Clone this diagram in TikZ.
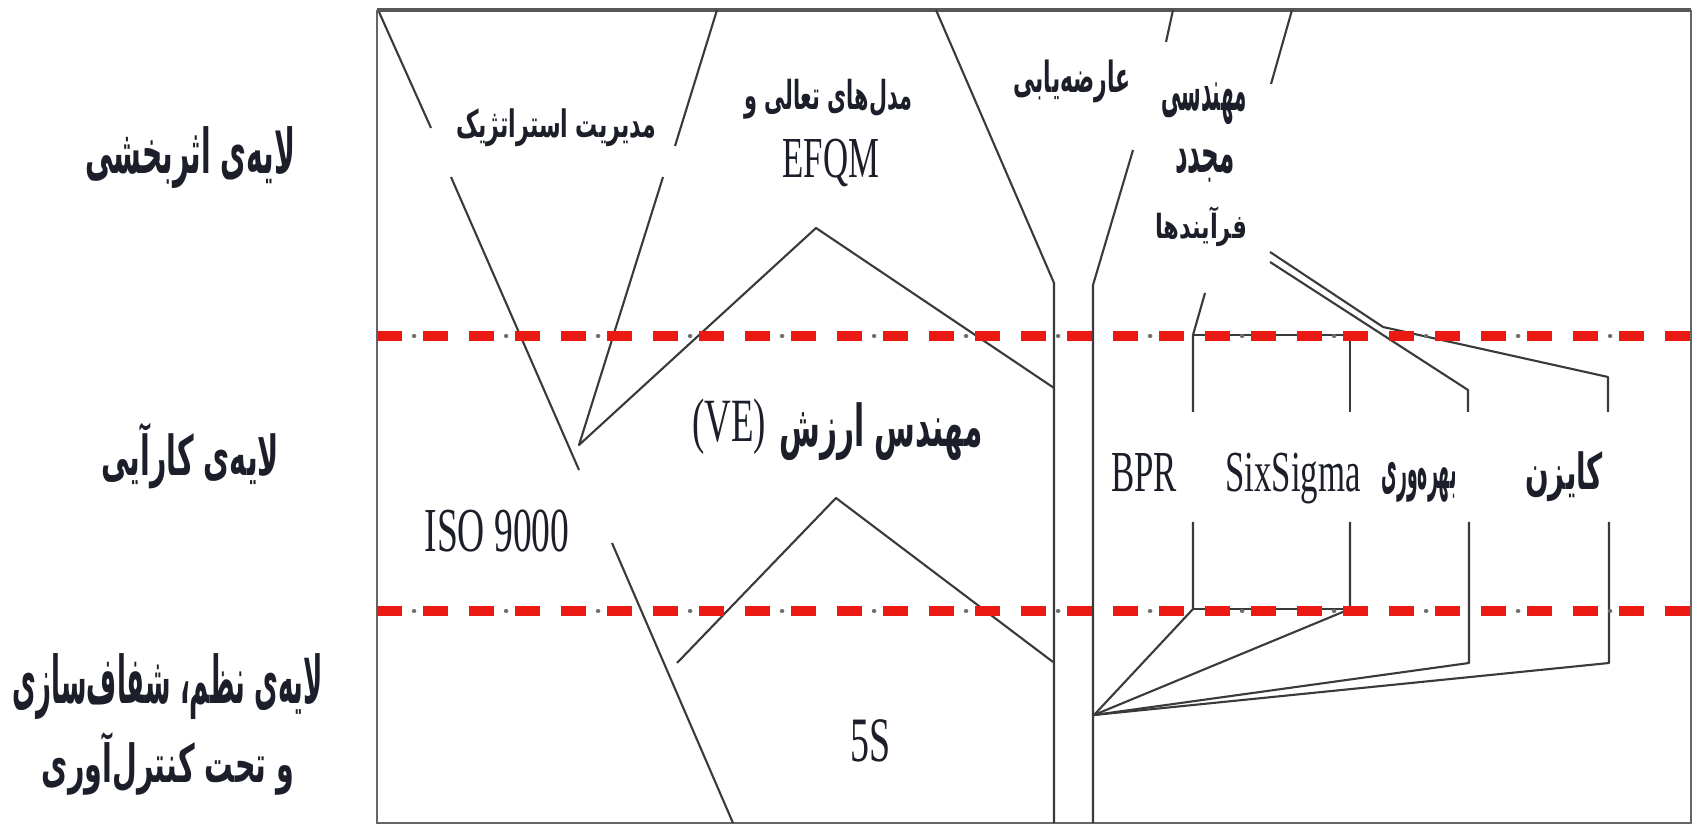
\documentclass[tikz,border=0pt]{standalone}
\usepackage{fontspec}
\usepackage{graphicx}
\TeXXeTstate=1
\newfontfamily\fa[Script=Arabic]{DejaVu Sans}
\newfontfamily\lat[FakeStretch=0.6]{Liberation Serif}
\definecolor{ink}{HTML}{1C1F2A}
\definecolor{wire}{HTML}{3A3A3A}
\definecolor{framegray}{HTML}{666666}
\definecolor{layerred}{RGB}{234,26,18}
\definecolor{dotgray}{HTML}{6E6E6E}
% Persian label fitted to a box of given width and total height (in mm)
\newcommand{\fitfa}[3]{\resizebox*{#1mm}{#2mm}{\fa\bfseries #3}}
\begin{document}
\begin{tikzpicture}[x=0.1mm,y=-0.1mm,
  wire/.style={draw=wire,line width=0.6pt,line join=round},
  framebox/.style={draw=framegray,line width=0.7pt},
  topedge/.style={draw=framegray!85!black,line width=1.3pt},
  layerline/.style={draw=layerred,line width=1mm,dash pattern=on 2.5mm off 2.1mm},
  layerdots/.style={draw=dotgray,line width=0.45mm,line cap=round,dash pattern=on 0.01mm off 9.19mm},
  fa/.style={inner sep=0pt,text=ink,anchor=center},
  la/.style={inner sep=0pt,text=ink,anchor=base,font=\lat\fontsize{16.5}{18}\selectfont}]
\useasboundingbox (0,0) rectangle (1694,826);

% frame
\coordinate (TL) at (377,10);
\coordinate (TR) at (1691,10);
\coordinate (BR) at (1691,823);
\coordinate (BL) at (377,823);
\draw[framebox] (TL) -- (BL) -- (BR) -- (TR);
\draw[topedge] (TL) -- (TR);

% strategic management funnel
\coordinate (sa1) at (379,12);   \coordinate (sa2) at (431,128);
\coordinate (sb1) at (717,10);   \coordinate (sb2) at (675,146);
\coordinate (sc1) at (451,177);  \coordinate (sc2) at (579,470);
\coordinate (sd1) at (663,177);  \coordinate (apex) at (579,445);
\coordinate (efqm) at (816,228); \coordinate (efqmR) at (1054,388);
\draw[wire] (sa1) -- (sa2);
\draw[wire] (sb1) -- (sb2);
\draw[wire] (sc1) -- (sc2);
\draw[wire] (sd1) -- (apex) -- (efqm) -- (efqmR);

% benchmarking channel
\coordinate (ch1) at (936,10);  \coordinate (ch2) at (1054,283); \coordinate (ch3) at (1054,823);
\coordinate (cr1) at (1133,150); \coordinate (cr2) at (1093,285); \coordinate (cr3) at (1093,823);
\draw[wire] (ch1) -- (ch2) -- (ch3);
\draw[wire] (cr1) -- (cr2) -- (cr3);
\coordinate (re1) at (1173,10); \coordinate (re2) at (1166,42);
\coordinate (re3) at (1292,10); \coordinate (re4) at (1271,84);
\draw[wire] (re1) -- (re2);
\draw[wire] (re3) -- (re4);

% value engineering and ISO lines
\coordinate (ve1) at (677,663); \coordinate (vep) at (836,498); \coordinate (ve2) at (1053,662);
\draw[wire] (ve1) -- (vep) -- (ve2);
\coordinate (iso1) at (612,543); \coordinate (iso2) at (733,823);
\draw[wire] (iso1) -- (iso2);

% process re-engineering branches (upper)
\coordinate (bprA) at (1205,293); \coordinate (bprB) at (1193,335); \coordinate (bprC) at (1193,412);
\coordinate (ssB) at (1350,335); \coordinate (ssC) at (1350,412);
\coordinate (prA) at (1270,262); \coordinate (prB) at (1468,390); \coordinate (prC) at (1468,412);
\coordinate (kzA) at (1270,252); \coordinate (kzM) at (1383,327); \coordinate (kzB) at (1608,377); \coordinate (kzC) at (1608,412);
\draw[wire] (bprA) -- (bprB) -- (bprC);
\draw[wire] (bprB) -- (ssB) -- (ssC);
\draw[wire] (prA) -- (prB) -- (prC);
\draw[wire] (kzA) -- (kzM) -- (kzB) -- (kzC);

% lower branches converging on the channel
\coordinate (bprD) at (1193,522); \coordinate (bprE) at (1193,609);
\coordinate (ssD) at (1350,522);  \coordinate (ssE) at (1350,609);
\coordinate (prD) at (1469,522);  \coordinate (prE) at (1469,663);
\coordinate (kzD) at (1609,522);  \coordinate (kzE) at (1609,663);
\coordinate (hub) at (1094,715);
\draw[wire] (bprD) -- (bprE) -- (hub);
\draw[wire] (ssD) -- (ssE) -- (hub);
\draw[wire] (bprE) -- (ssE);
\draw[wire] (prD) -- (prE) -- (hub);
\draw[wire] (kzD) -- (kzE) -- (hub);

% layer boundaries
\coordinate (l1a) at (377,336); \coordinate (l1b) at (1694,336);
\coordinate (l2a) at (377,611); \coordinate (l2b) at (1694,611);
\coordinate (d1a) at (414,336); \coordinate (d2a) at (414,611);
\draw[layerline] (l1a) -- (l1b);
\draw[layerline] (l2a) -- (l2b);
\draw[layerdots] (d1a) -- (l1b);
\draw[layerdots] (d2a) -- (l2b);

% layer names
\node[fa] (lay1) at (190,158) {\fitfa{21.0}{6.2}{\beginR لایه‌ی اثربخشی\endR}};
\node[fa] (lay2) at (190,456) {\fitfa{17.8}{6.6}{\beginR لایه‌ی کارآیی\endR}};
\node[fa] (lay3a) at (168,687) {\fitfa{31.0}{6.6}{\beginR لایه‌ی نظم، شفاف‌سازی\endR}};
\node[fa] (lay3b) at (168,764) {\fitfa{25.2}{6.3}{\beginR و تحت کنترل‌آوری\endR}};

% approaches
\node[fa] (strat) at (556,128) {\fitfa{20.0}{3.8}{\beginR مدیریت استراتژیک\endR}};
\node[fa] (exc) at (828,99) {\fitfa{16.8}{4.0}{\beginR مدل‌های تعالی و\endR}};
\node[la] (efqmt) at (831,178) {EFQM};
\node[fa] (bench) at (1072,81) {\fitfa{11.7}{4.3}{\beginR عارضه‌یابی\endR}};
\node[fa] (re1t) at (1204,104) {\fitfa{8.5}{4.2}{\beginR مهندسی\endR}};
\node[fa] (re2t) at (1205,166) {\fitfa{6.0}{3.3}{\beginR مجدد\endR}};
\node[fa] (re3t) at (1201,227) {\fitfa{9.2}{4.0}{\beginR فرآیندها\endR}};
\node[fa] (vet) at (881,432) {\fitfa{20.3}{5.8}{\beginR مهندس ارزش\endR}};
\node[la,font=\lat\fontsize{17.5}{19}\selectfont] (vel) at (729,442) {(VE)};
\node[la,font=\lat\fontsize{17.8}{19}\selectfont] (iso) at (497,552) {ISO 9000};
\node[la,font=\lat\fontsize{18}{19}\selectfont] (fives) at (871,761) {5S};
\node[la] (bpr) at (1144,492) {BPR};
\node[la] (six) at (1293,492) {SixSigma};
\node[fa] (prod) at (1419,482) {\fitfa{7.5}{4.0}{\beginR بهره‌وری\endR}};
\node[fa] (kaiz) at (1564,477) {\fitfa{7.8}{5.0}{\beginR کایزن\endR}};
\end{tikzpicture}
\end{document}
